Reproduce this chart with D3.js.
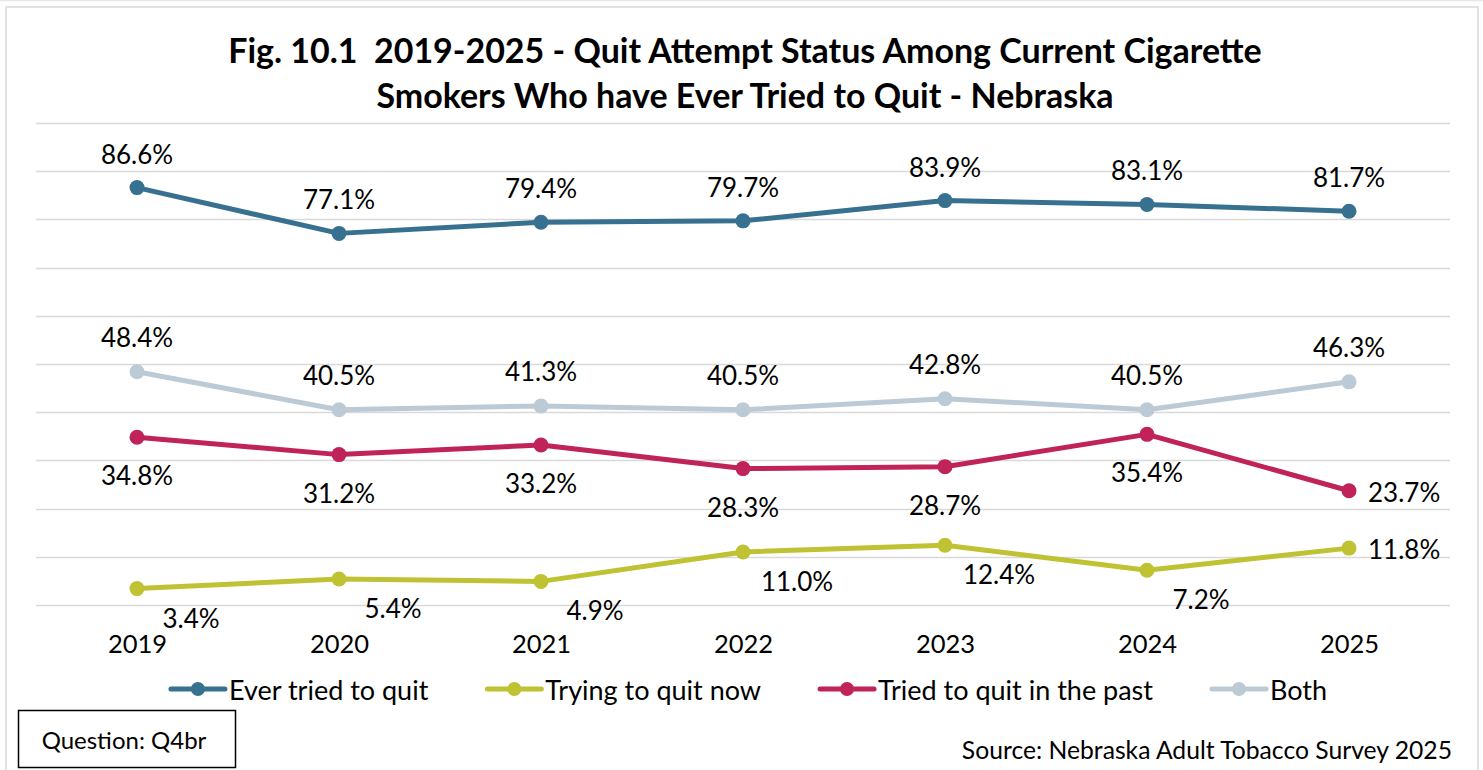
<!DOCTYPE html>
<html><head><meta charset="utf-8">
<script src="https://cdn.jsdelivr.net/npm/d3@7"></script>
<style>
html,body{margin:0;padding:0;background:#fff;}
svg{display:block;font-family:Lato,"Open Sans",sans-serif;}
text{white-space:pre;}
</style></head>
<body>
<svg id="c" width="1483" height="770"></svg>
<script>
const years = ["2019","2020","2021","2022","2023","2024","2025"];
const everTried = [86.6, 77.1, 79.4, 79.7, 83.9, 83.1, 81.7];
const tryingNow = [3.4, 5.4, 4.9, 11.0, 12.4, 7.2, 11.8];
const triedPast = [34.8, 31.2, 33.2, 28.3, 28.7, 35.4, 23.7];
const both = [48.4, 40.5, 41.3, 40.5, 42.8, 40.5, 46.3];
const seriesNames = ["Ever tried to quit", "Trying to quit now", "Tried to quit in the past", "Both"];
const yTicks = [0,10,20,30,40,50,60,70,80,90,100];
const titleLines = ["Fig. 10.1  2019-2025 - Quit Attempt Status Among Current Cigarette",
                    "Smokers Who have Ever Tried to Quit - Nebraska"];
const questionText = "Question: Q4br";
const sourceText = "Source: Nebraska Adult Tobacco Survey 2025";

const colors = ["#37718f", "#bfc232", "#c0225a", "#bccad5"];
const labelStyle = [
  {dx:0, dy:-34, anchor:"middle", lastRight:false},
  {dx:54, dy:29, anchor:"middle", lastRight:true},
  {dx:0, dy:38, anchor:"middle", lastRight:true},
  {dx:0, dy:-35, anchor:"middle", lastRight:false}
];
const seriesData = [everTried, tryingNow, triedPast, both];

const svg = d3.select("#c");
svg.append("line").attr("x1",0).attr("x2",1483).attr("y1",0.5).attr("y2",0.5).attr("stroke","#e3e6ea").attr("stroke-width",1.5);
svg.append("rect").attr("x",6).attr("y",7).attr("width",1472).attr("height",780)
  .attr("fill","none").attr("stroke","#d9d9d9").attr("stroke-width",1.5);

const x = d3.scalePoint().domain(years).range([36,1450]).padding(0.5);
const y = d3.scaleLinear().domain([0,100]).range([605,123]);

svg.append("g").selectAll("line").data(yTicks).join("line")
  .attr("x1",36).attr("x2",1450)
  .attr("y1",d=>Math.round(y(d))+0.5).attr("y2",d=>Math.round(y(d))+0.5)
  .attr("stroke","#d9d9d9").attr("stroke-width",1.5);

const xAxis = d3.axisBottom(x).tickSize(0).tickPadding(0);
const gx = svg.append("g").attr("transform","translate(0,605)").call(xAxis);
gx.select(".domain").remove();
gx.selectAll("text").attr("font-family","Lato").attr("font-size",25.5).attr("fill","#000")
  .attr("dy",null).attr("y",48);

const title = svg.append("g");
titleLines.forEach((t,i)=>{
  title.append("text").attr("x",745).attr("y",i===0?63:108).attr("text-anchor","middle")
    .attr("font-weight","bold").attr("font-size",30).attr("fill","#000").text(t);
});
{
  const t0 = title.select("text").node();
  const w = t0.getComputedTextLength();
  const fs = 30*1034/w;
  title.selectAll("text").attr("font-size",fs);
}

const line = d3.line().x((d,i)=>x(years[i])).y(d=>y(d));
seriesData.forEach((vals,si)=>{
  const g = svg.append("g");
  g.append("path").datum(vals).attr("d",line).attr("fill","none")
    .attr("stroke",colors[si]).attr("stroke-width",5).attr("stroke-linejoin","round");
  g.selectAll("circle").data(vals).join("circle")
    .attr("cx",(d,i)=>x(years[i])).attr("cy",d=>y(d)).attr("r",7.5).attr("fill",colors[si]);
});
seriesData.forEach((vals,si)=>{
  const ls = labelStyle[si];
  svg.append("g").selectAll("text").data(vals).join("text")
    .attr("font-size",26).attr("fill","#000")
    .attr("dominant-baseline","central")
    .attr("text-anchor",(d,i)=> (ls.lastRight && i===vals.length-1) ? "start" : ls.anchor)
    .attr("x",(d,i)=> (ls.lastRight && i===vals.length-1) ? x(years[i])+19 : x(years[i])+ls.dx)
    .attr("y",(d,i)=> (ls.lastRight && i===vals.length-1) ? y(d)+1 : y(d)+ls.dy)
    .text(d=>d.toFixed(1)+"%");
});

const leg = svg.append("g");
let cx = 0;
seriesNames.forEach((n,i)=>{
  const it = leg.append("g");
  it.append("line").attr("x1",3).attr("x2",57).attr("y1",0).attr("y2",0)
    .attr("stroke",colors[i]).attr("stroke-width",5).attr("stroke-linecap","round");
  it.append("circle").attr("cx",30).attr("cy",0).attr("r",7).attr("fill",colors[i]);
  const tx = it.append("text").attr("x",61).attr("y",0).attr("dominant-baseline","central")
    .attr("font-size",27).attr("fill","#000").text(n);
  const w = tx.node().getComputedTextLength();
  it.attr("transform",`translate(${cx},689)`);
  cx += 61 + w + 56;
});
const legW = cx - 56;
leg.attr("transform",`translate(${747.5 - legW/2},0)`);

svg.append("rect").attr("x",18.5).attr("y",710.5).attr("width",217).attr("height",57)
  .attr("fill","#fff").attr("stroke","#000").attr("stroke-width",1.5);
svg.append("text").attr("x",124).attr("y",739).attr("text-anchor","middle").attr("dominant-baseline","central")
  .attr("font-size",24).attr("fill","#000").text(questionText);

svg.append("text").attr("x",1452).attr("y",749).attr("text-anchor","end").attr("dominant-baseline","central")
  .attr("font-size",24.7).attr("fill","#000").text(sourceText);
</script>
</body></html>
